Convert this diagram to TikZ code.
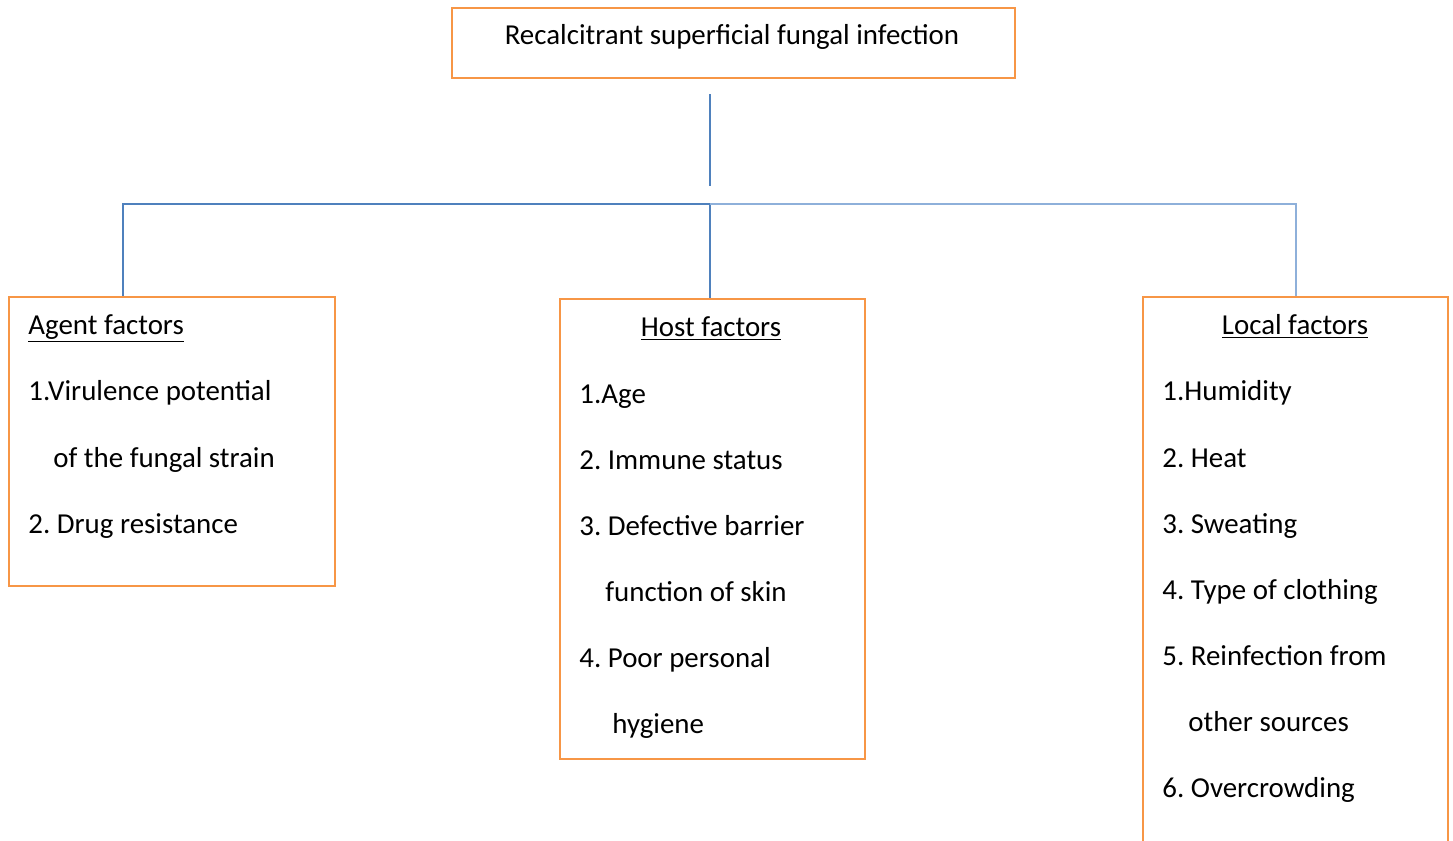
\documentclass[tikz,border=0pt]{standalone}
\usepackage{fontspec}
\setmainfont{Carlito}
\frenchspacing
\usetikzlibrary{positioning}
\definecolor{boxO}{HTML}{F79646}
\definecolor{linkB}{HTML}{4F81BD}
\definecolor{linkL}{HTML}{8EB0DA}
\tikzset{
  card/.style     ={draw=boxO, line width=1.1pt, anchor=north west,
                    inner sep=0pt},
  item/.style     ={anchor=base west, inner sep=0pt,
                    font=\fontsize{14.45pt}{17pt}\selectfont},
  head/.style     ={item, anchor=base},
  link/.style     ={draw=linkB, line width=0.6pt},
  linklight/.style={draw=linkL, line width=0.9pt},
}
\begin{document}
\begin{tikzpicture}[x=0.5pt, y=-0.5pt]
\useasboundingbox (0,0) rectangle (1453,841);
\clip (0,0) rectangle (1453,841);

% title
\node[card, minimum width=281.5pt, minimum height=35pt] (top) at (451,7) {};
\node[head] (topT) at (732,44) {Recalcitrant superficial fungal infection};

% factor boxes
\node[card, minimum width=163pt,   minimum height=144.5pt] (agent) at (8,296) {};
\node[card, minimum width=152.5pt, minimum height=230pt]   (host)  at (559,298) {};
\node[card, minimum width=152.5pt, minimum height=290pt]   (local) at (1142,296) {};

% connectors
\coordinate (stemtop) at (710,94);
\coordinate (stembot) at (710,186);
\coordinate (junc)    at (710,204);
\draw[link] (stemtop) -- (stembot);
\draw[link] (junc) -| ([xshift=57.5pt]agent.north west);
\draw[link] (junc) -- (junc |- host.north);
\draw[linklight] (junc) -| (local.north);

% Agent factors
\node[item] (aH) at (28,334) {\underline{Agent factors}};
\foreach \n/\x/\y/\txt in {a1/28/400/{1.Virulence potential},
                           a2/53/467/{of the fungal strain},
                           a3/28/533/{2. Drug resistance}}
  \node[item] (\n) at (\x,\y) {\txt};

% Host factors
\node[head] (hH) at (711,336) {\underline{Host factors}};
\foreach \n/\x/\y/\txt in {h1/579/403/{1.Age},
                           h2/579/469/{2. Immune status},
                           h3/579/535/{3. Defective barrier},
                           h4/605/601/{function of skin},
                           h5/579/667/{4. Poor personal},
                           h6/612/733/{hygiene}}
  \node[item] (\n) at (\x,\y) {\txt};

% Local factors
\node[head] (lH) at (1295,334) {\underline{Local factors}};
\foreach \n/\x/\y/\txt in {l1/1162/400/{1.Humidity},
                           l2/1162/467/{2. Heat},
                           l3/1162/533/{3. Sweating},
                           l4/1162/599/{4. Type of clothing},
                           l5/1162/665/{5. Reinfection from},
                           l6/1188/731/{other sources},
                           l7/1162/797/{6. Overcrowding}}
  \node[item] (\n) at (\x,\y) {\txt};

\end{tikzpicture}
\end{document}
